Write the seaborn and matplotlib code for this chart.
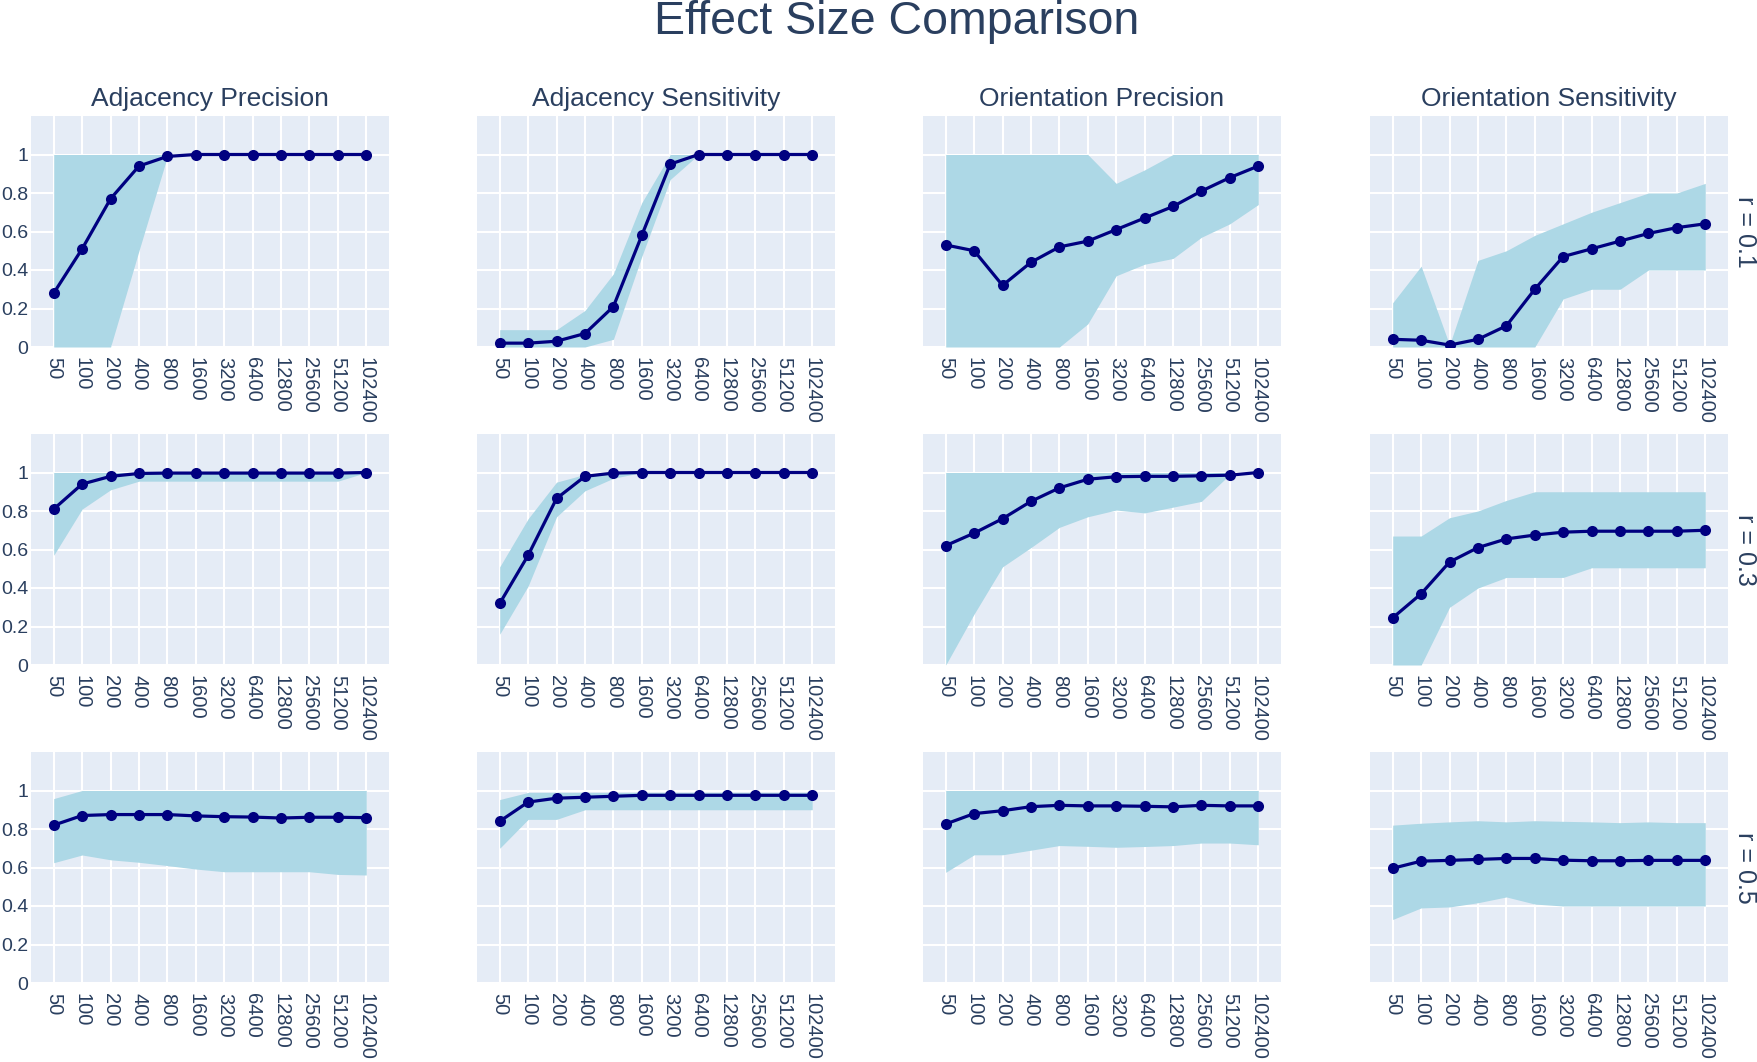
import matplotlib
matplotlib.use("Agg")
import numpy as np
import pandas as pd
import matplotlib.pyplot as plt
import seaborn as sns

# -------------------------
# Data
# -------------------------
sample_sizes = ["50", "100", "200", "400", "800", "1600", "3200",
                "6400", "12800", "25600", "51200", "102400"]
metrics = ["Adjacency Precision", "Adjacency Sensitivity",
           "Orientation Precision", "Orientation Sensitivity"]
effect_sizes = ["r = 0.1", "r = 0.3", "r = 0.5"]

# r = 0.1
ap1_mean = [0.28, 0.51, 0.77, 0.94, 0.99, 1.0, 1.0, 1.0, 1.0, 1.0, 1.0, 1.0]
ap1_lo = [0.0, 0.0, 0.0, 0.5, 0.99, 1.0, 1.0, 1.0, 1.0, 1.0, 1.0, 1.0]
ap1_hi = [1.0, 1.0, 1.0, 1.0, 1.0, 1.0, 1.0, 1.0, 1.0, 1.0, 1.0, 1.0]
as1_mean = [0.02, 0.02, 0.03, 0.07, 0.21, 0.58, 0.95, 1.0, 1.0, 1.0, 1.0, 1.0]
as1_lo = [0.0, 0.0, 0.0, 0.0, 0.04, 0.47, 0.87, 1.0, 1.0, 1.0, 1.0, 1.0]
as1_hi = [0.09, 0.09, 0.09, 0.19, 0.38, 0.75, 1.0, 1.0, 1.0, 1.0, 1.0, 1.0]
op1_mean = [0.53, 0.50, 0.32, 0.44, 0.52, 0.55, 0.61, 0.67, 0.73, 0.81, 0.88, 0.94]
op1_lo = [0.0, 0.0, 0.0, 0.0, 0.0, 0.12, 0.37, 0.43, 0.46, 0.57, 0.64, 0.74]
op1_hi = [1.0, 1.0, 1.0, 1.0, 1.0, 1.0, 0.85, 0.92, 1.0, 1.0, 1.0, 1.0]
os1_mean = [0.04, 0.035, 0.01, 0.04, 0.11, 0.30, 0.47, 0.51, 0.55, 0.59, 0.62, 0.64]
os1_lo = [0.0, 0.0, 0.0, 0.0, 0.0, 0.0, 0.25, 0.30, 0.30, 0.40, 0.40, 0.40]
os1_hi = [0.23, 0.42, 0.01, 0.45, 0.50, 0.58, 0.64, 0.70, 0.75, 0.80, 0.80, 0.85]

# r = 0.3
ap3_mean = [0.81, 0.94, 0.98, 0.995, 0.997, 0.997, 0.997, 0.997, 0.997, 0.997, 0.997, 1.0]
ap3_lo = [0.57, 0.81, 0.91, 0.955, 0.955, 0.955, 0.955, 0.955, 0.955, 0.955, 0.955, 1.0]
ap3_hi = [1.0, 1.0, 1.0, 1.0, 1.0, 1.0, 1.0, 1.0, 1.0, 1.0, 1.0, 1.0]
as3_mean = [0.32, 0.57, 0.865, 0.98, 0.997, 1.0, 1.0, 1.0, 1.0, 1.0, 1.0, 1.0]
as3_lo = [0.16, 0.41, 0.77, 0.905, 0.97, 1.0, 1.0, 1.0, 1.0, 1.0, 1.0, 1.0]
as3_hi = [0.51, 0.76, 0.95, 0.99, 1.0, 1.0, 1.0, 1.0, 1.0, 1.0, 1.0, 1.0]
op3_mean = [0.62, 0.685, 0.76, 0.85, 0.92, 0.965, 0.978, 0.98, 0.98, 0.983, 0.986, 1.0]
op3_lo = [0.0, 0.265, 0.51, 0.61, 0.715, 0.77, 0.805, 0.79, 0.82, 0.85, 0.99, 1.0]
op3_hi = [1.0, 1.0, 1.0, 1.0, 1.0, 1.0, 1.0, 1.0, 1.0, 1.0, 1.0, 1.0]
os3_mean = [0.245, 0.37, 0.535, 0.61, 0.655, 0.675, 0.69, 0.695, 0.695, 0.695, 0.695, 0.70]
os3_lo = [0.0, 0.0, 0.30, 0.40, 0.455, 0.455, 0.455, 0.505, 0.505, 0.505, 0.505, 0.505]
os3_hi = [0.67, 0.67, 0.765, 0.80, 0.855, 0.90, 0.90, 0.90, 0.90, 0.90, 0.90, 0.90]

# r = 0.5
ap5_mean = [0.82, 0.87, 0.875, 0.875, 0.875, 0.868, 0.864, 0.862, 0.857, 0.861, 0.861, 0.859]
ap5_lo = [0.625, 0.665, 0.64, 0.627, 0.61, 0.592, 0.578, 0.578, 0.578, 0.578, 0.564, 0.561]
ap5_hi = [0.958, 1.0, 1.0, 1.0, 1.0, 1.0, 1.0, 1.0, 1.0, 1.0, 1.0, 1.0]
as5_mean = [0.84, 0.94, 0.96, 0.965, 0.97, 0.975, 0.975, 0.975, 0.975, 0.975, 0.975, 0.975]
as5_lo = [0.70, 0.85, 0.85, 0.90, 0.90, 0.90, 0.90, 0.90, 0.90, 0.90, 0.90, 0.90]
as5_hi = [0.953, 0.99, 0.99, 0.99, 0.99, 0.99, 0.99, 0.99, 0.99, 0.99, 0.99, 0.99]
op5_mean = [0.826, 0.88, 0.895, 0.916, 0.923, 0.92, 0.92, 0.918, 0.915, 0.923, 0.92, 0.92]
op5_lo = [0.575, 0.666, 0.666, 0.69, 0.714, 0.71, 0.705, 0.709, 0.714, 0.727, 0.727, 0.718]
op5_hi = [1.0, 1.0, 1.0, 1.0, 1.0, 1.0, 1.0, 1.0, 1.0, 1.0, 1.0, 1.0]
os5_mean = [0.596, 0.633, 0.637, 0.642, 0.647, 0.647, 0.638, 0.635, 0.635, 0.637, 0.637, 0.637]
os5_lo = [0.33, 0.39, 0.395, 0.417, 0.447, 0.41, 0.40, 0.40, 0.40, 0.40, 0.40, 0.40]
os5_hi = [0.82, 0.83, 0.837, 0.843, 0.837, 0.843, 0.84, 0.837, 0.833, 0.837, 0.833, 0.833]

panels = [
    [(ap1_mean, ap1_lo, ap1_hi), (as1_mean, as1_lo, as1_hi),
     (op1_mean, op1_lo, op1_hi), (os1_mean, os1_lo, os1_hi)],
    [(ap3_mean, ap3_lo, ap3_hi), (as3_mean, as3_lo, as3_hi),
     (op3_mean, op3_lo, op3_hi), (os3_mean, os3_lo, os3_hi)],
    [(ap5_mean, ap5_lo, ap5_hi), (as5_mean, as5_lo, as5_hi),
     (op5_mean, op5_lo, op5_hi), (os5_mean, os5_lo, os5_hi)],
]

# -------------------------
# Style
# -------------------------
TEXT = "#2a3f5f"
BG = "#E5ECF6"
BAND = "#ADD8E6"
LINE = "#000080"

sns.set_theme(style="darkgrid", rc={"axes.facecolor": BG, "grid.color": "white",
                                    "grid.linewidth": 1.5})
plt.rcParams["font.family"] = ["Liberation Sans", "DejaVu Sans"]
plt.rcParams["text.color"] = TEXT
plt.rcParams["xtick.color"] = TEXT
plt.rcParams["ytick.color"] = TEXT

W, H = 1757, 1062
fig = plt.figure(figsize=(W / 100, H / 100), dpi=100)
fig.patch.set_facecolor("white")

col_left = [31, 477, 923, 1370]
col_w = 358
row_top = [116, 434, 752]
row_h = 231

x = np.arange(len(sample_sizes))

for r in range(3):
    for c in range(4):
        left = col_left[c] / W
        bottom = 1 - (row_top[r] + row_h) / H
        ax = fig.add_axes([left, bottom, col_w / W, row_h / H])
        mean, lo, hi = panels[r][c]
        df = pd.DataFrame({"x": x, "mean": mean, "lo": lo, "hi": hi})

        ax.fill_between(df["x"], df["lo"], df["hi"], color=BAND, lw=0, zorder=1)
        sns.lineplot(data=df, x="x", y="mean", ax=ax, color=LINE, marker="o",
                     markersize=8, markeredgewidth=0, linewidth=2.3,
                     sort=False, zorder=3)

        ax.set_xlim(-0.8, 11.8)
        ax.set_ylim(0, 1.2)
        ax.set_xticks(x)
        ax.set_xticklabels(sample_sizes, rotation=-90, fontsize=14.5)
        ax.set_yticks([0, 0.2, 0.4, 0.6, 0.8, 1.0])
        if c == 0:
            ax.set_yticklabels(["0", "0.2", "0.4", "0.6", "0.8", "1"], fontsize=14)
        else:
            ax.set_yticklabels([])
        ax.tick_params(axis="x", length=0, pad=7)
        ax.tick_params(axis="y", length=0, pad=2)
        ax.set_xlabel("")
        ax.set_ylabel("")
        for s in ax.spines.values():
            s.set_visible(False)
        ax.grid(True, color="white", linewidth=1.5)
        ax.set_axisbelow(True)

        if r == 0:
            ax.set_title(metrics[c], fontsize=19, color=TEXT, pad=7)
        if c == 3:
            yc = 1 - (row_top[r] + row_h / 2) / H
            fig.text(1745 / W, yc, effect_sizes[r], rotation=-90, fontsize=18,
                     ha="center", va="center", color=TEXT)

fig.text(897 / W, 1 - 22 / H, "Effect Size Comparison", ha="center", va="center",
         fontsize=33.5, color=TEXT)

fig.savefig("out.png", dpi=100)
